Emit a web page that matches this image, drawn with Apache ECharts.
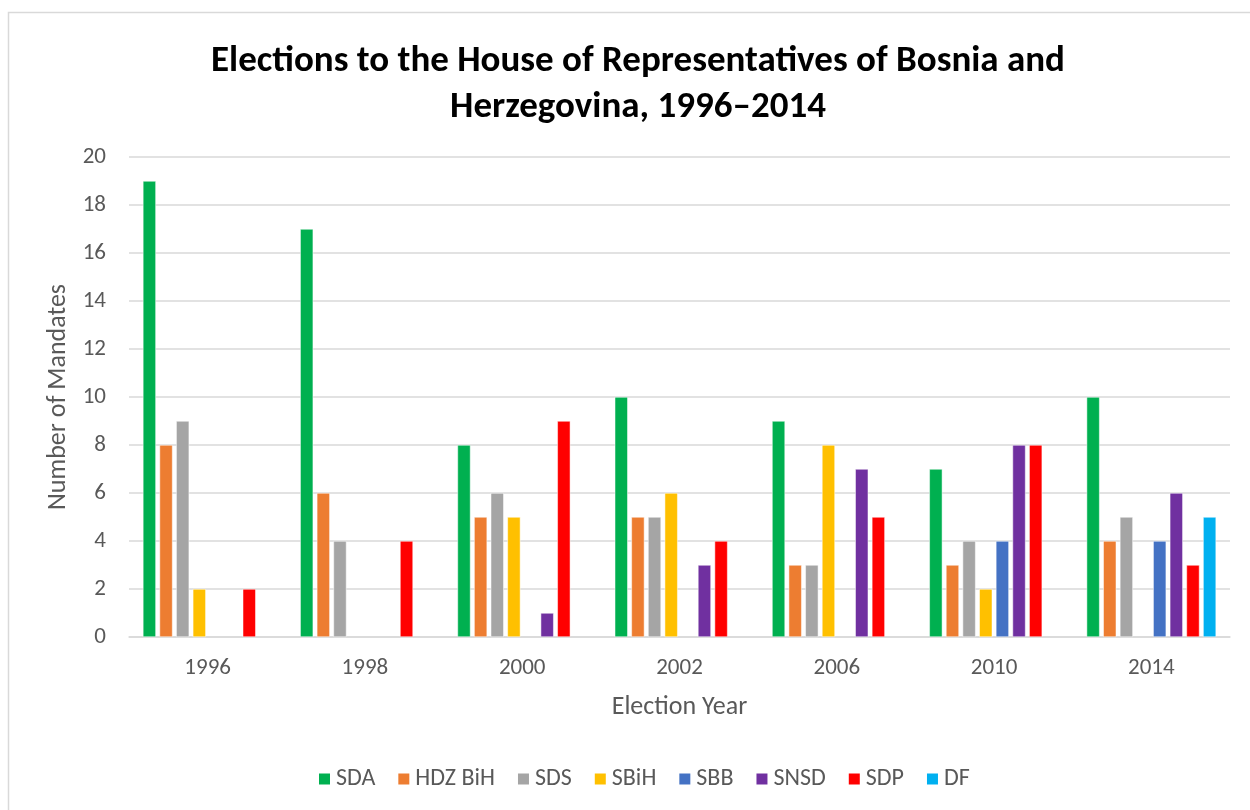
<!DOCTYPE html>
<html>
<head>
<meta charset="utf-8">
<script src="https://cdn.jsdelivr.net/npm/echarts@6/dist/echarts.min.js"></script>
<style>
	html, body { margin: 0; padding: 0; background: #fff; }
	#echarts1 { width: 1250px; height: 810px; }
</style>
</head>
<body>
<div id="echarts1"></div>
<script>
// 数据
const years = ['1996', '1998', '2000', '2002', '2006', '2010', '2014'];
const parties = ['SDA', 'HDZ BiH', 'SDS', 'SBiH', 'SBB', 'SNSD', 'SDP', 'DF'];
const colors = ['#00b050', '#ed7d31', '#a5a5a5', '#ffc000', '#4472c4', '#7030a0', '#ff0000', '#00b0f0'];
const sda = [19, 17, 8, 10, 9, 7, 10];
const hdz = [8, 6, 5, 5, 3, 3, 4];
const sds = [9, 4, 6, 5, 3, 4, 5];
const sbih = [2, null, 5, 6, 8, 2, null];
const sbb = [null, null, null, null, null, 4, 4];
const snsd = [null, null, 1, 3, 7, 8, 6];
const sdp = [2, 4, 9, 4, 5, 8, 3];
const df = [null, null, null, null, null, null, 5];
const values = [sda, hdz, sds, sbih, sbb, snsd, sdp, df];
const yTicks = [0, 2, 4, 6, 8, 10, 12, 14, 16, 18, 20];

const font = 'Carlito, Lato, "Open Sans", sans-serif';
const chart1 = echarts.init(document.getElementById('echarts1'));

function echarts1() {
	let series = parties.map(function(name, i) {
		return {
			name: name,
			type: 'bar',
			barWidth: 13,
			barGap: '28%',
			itemStyle: {
				color: colors[i],
				borderColor: '#ffffff',
				borderWidth: 0.5
			},
			data: values[i]
		};
	});
	let option = {
		backgroundColor: '#ffffff',
		animation: false,
		title: {
			text: 'Elections to the House of Representatives of Bosnia and\nHerzegovina, 1996\u20132014',
			left: 633,
			textAlign: 'center',
			top: 34,
			textStyle: {
				color: '#000000',
				fontWeight: 700,
				fontFamily: font,
				fontSize: 37,
				lineHeight: 46
			}
		},
		graphic: [{
			type: 'rect',
			shape: { x: 8.5, y: 12.5, width: 1270, height: 830 },
			style: { fill: 'none', stroke: '#d9d9d9', lineWidth: 1.5 },
			silent: true
		}],
		legend: {
			data: parties,
			left: 312,
			top: 762,
			icon: 'rect',
			itemWidth: 13,
			itemHeight: 13,
			itemGap: 21,
			textStyle: {
				color: '#595959',
				fontSize: 24,
				fontFamily: font
			}
		},
		grid: {
			left: 129,
			right: 20,
			top: 157,
			bottom: 173
		},
		xAxis: [{
			type: 'category',
			data: years,
			name: 'Election Year',
			nameLocation: 'middle',
			nameGap: 57,
			nameTextStyle: {
				color: '#595959',
				fontSize: 26,
				fontFamily: font
			},
			axisTick: { show: false },
			axisLine: {
				lineStyle: { color: '#d9d9d9', width: 1.5 }
			},
			axisLabel: {
				color: '#595959',
				fontSize: 23,
				fontFamily: font,
				margin: 20
			}
		}],
		yAxis: [{
			type: 'value',
			min: yTicks[0],
			max: yTicks[yTicks.length - 1],
			interval: yTicks[1] - yTicks[0],
			name: 'Number of Mandates',
			nameLocation: 'middle',
			nameGap: 56,
			nameTextStyle: {
				color: '#595959',
				fontSize: 26,
				fontFamily: font
			},
			axisLine: { show: false },
			axisTick: { show: false },
			axisLabel: {
				color: '#595959',
				fontSize: 23,
				fontFamily: font,
				margin: 23
			},
			splitLine: {
				show: true,
				lineStyle: { color: '#d9d9d9', width: 1.5 }
			}
		}],
		series: series
	};
	chart1.setOption(option);
}

echarts1();
</script>
</body>
</html>
